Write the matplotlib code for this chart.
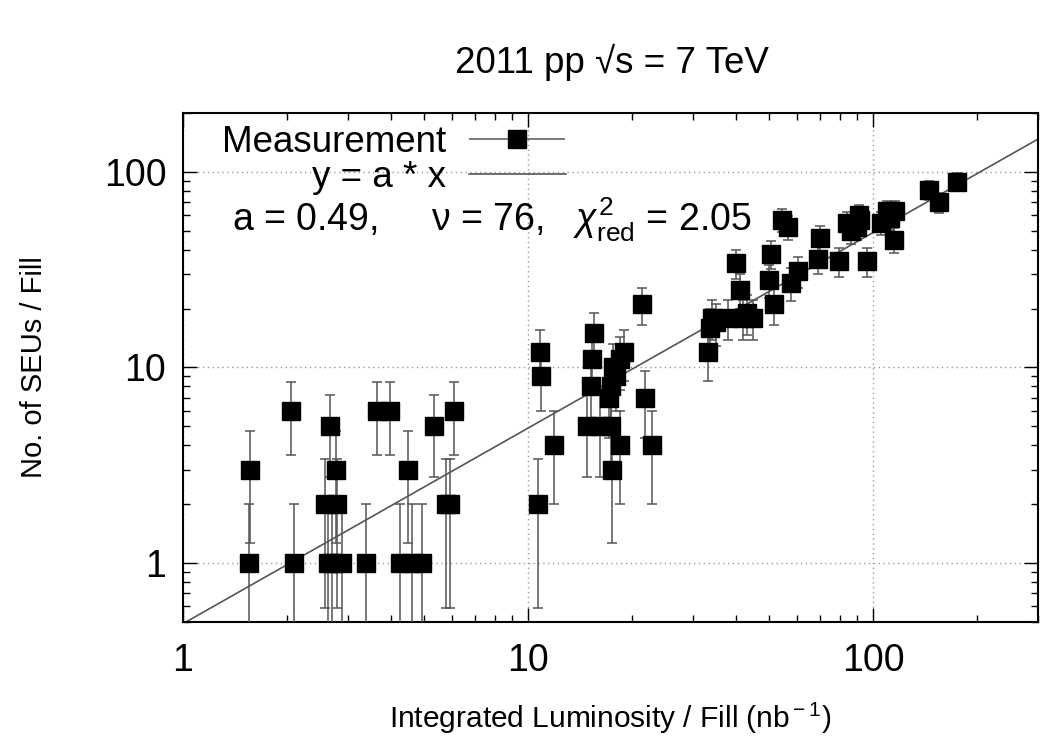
import numpy as np
import matplotlib
matplotlib.use("Agg")
import matplotlib.pyplot as plt
from matplotlib.ticker import NullFormatter, LogLocator
from matplotlib.legend_handler import HandlerErrorbar

plt.rcParams['font.family'] = ['Liberation Sans', 'DejaVu Sans']
plt.rcParams['mathtext.fontset'] = 'custom'
plt.rcParams['mathtext.rm'] = 'Liberation Sans'
plt.rcParams['mathtext.it'] = 'Liberation Sans:italic'

# integrated luminosity per fill (nb^-1) and number of SEUs per fill
lumi = [1.55, 1.56, 2.06, 2.09, 2.57, 2.63, 2.66, 2.70, 2.78, 2.80, 2.89,
        3.38, 3.64, 3.97, 4.25, 4.50, 4.61, 4.93, 5.33, 5.77, 5.95, 6.08,
        10.7, 10.8, 10.9, 11.9, 14.8, 15.2, 15.3, 15.5, 16.1, 17.4, 17.5,
        17.2, 17.4, 17.6, 18.0, 18.5, 18.9, 18.5, 21.4, 21.8, 22.8,
        33.2, 33.6, 34.0, 35.0, 38.0, 40.0, 41.2, 41.9, 43.0, 44.8,
        50.0, 50.6, 51.7, 54.3, 56.5, 57.7, 60.5, 69.0, 70.0, 79.6,
        84.2, 86.0, 90.0, 90.9, 91.5, 96.1, 105.0, 109.7, 112.0, 115.9, 114.7,
        144.7, 154.6, 174.6]
seu = [1, 3, 6, 1, 2, 1, 5, 1, 3, 2, 1,
       1, 6, 6, 1, 3, 1, 1, 5, 2, 2, 6,
       2, 12, 9, 4, 5, 8, 11, 15, 5, 5, 3,
       7, 8, 10, 9, 11, 12, 4, 21, 7, 4,
       12, 16, 18, 17, 18, 34, 25, 18, 19, 18,
       28, 38, 21, 57, 52, 27, 31, 36, 46, 35,
       55, 50, 52, 60, 57, 35, 55, 63, 58, 63, 45,
       81, 70, 89]

a_fit = 0.49
x_line = [1.0, 300.0]

lumi = np.array(lumi)
seu = np.array(seu, dtype=float)
err = np.sqrt(seu)

fig = plt.figure(figsize=(10.4, 7.36), dpi=100)
ax = fig.add_axes([0.176, 0.155, 0.822, 0.6915])
ax.set_xscale('log')
ax.set_yscale('log')

ax.errorbar(lumi, seu, yerr=err, fmt='s', color='black', ms=13.5,
            ecolor='#555555', elinewidth=1.1, capsize=3.8, capthick=1.1, zorder=3)
ax.plot(x_line, [a_fit * v for v in x_line], color='#555555', lw=1.2, zorder=2)

# legend proxies (gnuplot style: text first, sample after)
h_meas = ax.errorbar([], [], xerr=[], fmt='s', color='black', ms=13.5,
                     ecolor='#555555', elinewidth=1.1, capsize=3.8, capthick=1.1)
h_fit, = ax.plot([], [], color='#555555', lw=1.2)
ax.legend([h_meas, h_fit], ['Measurement', 'y = a * x'], loc='upper left',
          bbox_to_anchor=(0.046, 0.977), frameon=False, markerfirst=False,
          fontsize=26.5, handlelength=2.65, handletextpad=0.6, borderpad=0,
          borderaxespad=0, labelspacing=0.0,
          handler_map={type(h_meas): HandlerErrorbar(xerr_size=1.3)})

ax.text(0.057, 0.767, 'a = 0.49,     \u03bd = 76,   $\\chi^2_{\\rm red}$ = 2.05',
        transform=ax.transAxes, fontsize=27, va='baseline', ha='left')

ax.set_xlim(1, 300)
ax.set_ylim(0.5, 200)
ax.set_xticks([1, 10, 100], ['1', '10', '100'])
ax.set_yticks([1, 10, 100], ['1', '10', '100'])
ax.xaxis.set_minor_locator(LogLocator(base=10, subs=np.arange(2, 10)))
ax.yaxis.set_minor_locator(LogLocator(base=10, subs=np.arange(2, 10)))
ax.xaxis.set_minor_formatter(NullFormatter())
ax.yaxis.set_minor_formatter(NullFormatter())
ax.tick_params(which='both', direction='in', top=True, right=True, width=1)
ax.tick_params(which='major', length=10, labelsize=27)
ax.tick_params(axis='x', which='major', pad=15)
ax.tick_params(axis='y', which='major', pad=12)
ax.tick_params(which='minor', length=5)
ax.grid(True, which='major', linestyle=(0, (1, 2.5)), color='#999999', lw=1)
for s in ax.spines.values():
    s.set_linewidth(1.5)

ax.set_xlabel('Integrated Luminosity / Fill (nb$^{\\rm -1}$)', fontsize=21.5, labelpad=16)
ax.set_ylabel('No. of SEUs / Fill', fontsize=21, labelpad=40)
fig.text(0.588, 0.915, '2011 pp \u221as = 7 TeV', fontsize=26.5, ha='center', va='center')

fig.savefig('out.png', dpi=100)
